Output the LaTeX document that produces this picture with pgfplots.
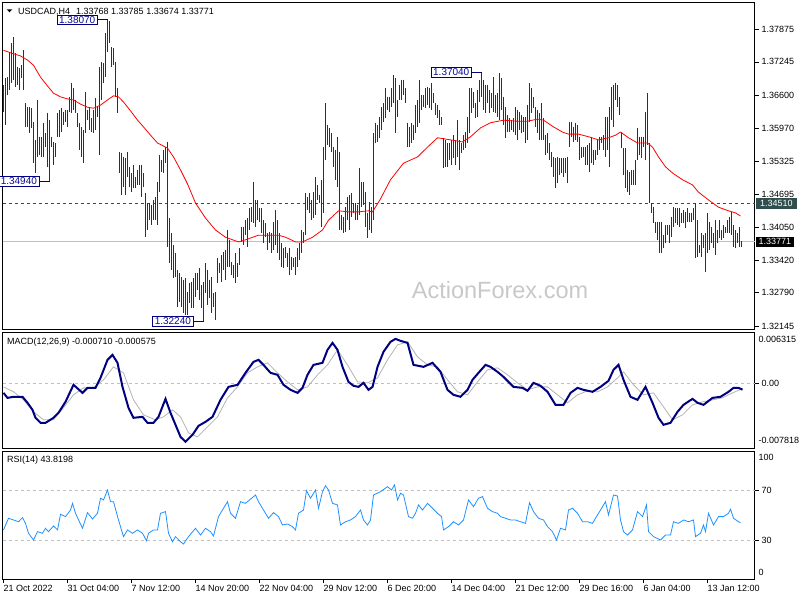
\documentclass[border=0pt]{standalone}
\usepackage{fontspec}
\setmainfont{Liberation Sans}
\usepackage{pgfplots}
\pgfplotsset{compat=1.18}
\usepackage{pgfplotstable}

\definecolor{barc}{RGB}{14,56,88}
\definecolor{navyc}{RGB}{0,0,128}
\definecolor{lblc}{RGB}{10,10,150}
\definecolor{sigc}{RGB}{178,178,178}
\definecolor{rsic}{RGB}{30,144,255}
\definecolor{dslate}{RGB}{47,79,79}
\definecolor{wm}{RGB}{200,200,200}
\definecolor{lvl}{RGB}{192,192,192}

% H4 bars: index, high, low
\pgfplotstableread{
i hi lo
0 1.3680 1.3628
1 1.3693 1.3603
2 1.3695 1.3661
3 1.3744 1.3670
4 1.3761 1.3684
5 1.3772 1.3690
6 1.3742 1.3676
7 1.3715 1.3680
8 1.3713 1.3670
9 1.3718 1.3693
10 1.3747 1.3670
11 1.3645 1.3599
12 1.3637 1.3599
13 1.3637 1.3587
14 1.3635 1.3597
15 1.3608 1.3529
16 1.3574 1.3510
17 1.3651 1.3541
18 1.3580 1.3545
19 1.3580 1.3541
20 1.3607 1.3541
21 1.3587 1.3560
22 1.3626 1.3522
23 1.3612 1.3494
24 1.3580 1.3560
25 1.3570 1.3526
26 1.3568 1.3541
27 1.3626 1.3580
28 1.3632 1.3580
29 1.3635 1.3589
30 1.3628 1.3603
31 1.3632 1.3608
32 1.3632 1.3599
33 1.3657 1.3628
34 1.3684 1.3626
35 1.3674 1.3632
36 1.3651 1.3626
37 1.3626 1.3599
38 1.3607 1.3554
39 1.3599 1.3541
40 1.3593 1.3529
41 1.3666 1.3587
42 1.3632 1.3612
43 1.3635 1.3593
44 1.3616 1.3589
45 1.3632 1.3587
46 1.3655 1.3593
47 1.3637 1.3618
48 1.3715 1.3545
49 1.3724 1.3651
50 1.3722 1.3684
51 1.3780 1.3695
52 1.3807 1.3744
53 1.3803 1.3761
54 1.3753 1.3715
55 1.3751 1.3718
56 1.3724 1.3657
57 1.3674 1.3626
58 1.3551 1.3510
59 1.3549 1.3468
60 1.3541 1.3483
61 1.3539 1.3468
62 1.3551 1.3502
63 1.3522 1.3483
64 1.3510 1.3473
65 1.3526 1.3481
66 1.3502 1.3481
67 1.3516 1.3487
68 1.3526 1.3487
69 1.3526 1.3464
70 1.3510 1.3483
71 1.3471 1.3386
72 1.3452 1.3400
73 1.3452 1.3419
74 1.3448 1.3410
75 1.3458 1.3419
76 1.3464 1.3419
77 1.3493 1.3410
78 1.3545 1.3473
79 1.3535 1.3512
80 1.3554 1.3510
81 1.3560 1.3529
82 1.3570 1.3367
83 1.3423 1.3336
84 1.3394 1.3323
85 1.3371 1.3307
86 1.3356 1.3309
87 1.3323 1.3251
88 1.3317 1.3261
89 1.3309 1.3251
90 1.3304 1.3240
91 1.3307 1.3236
92 1.3280 1.3236
93 1.3298 1.3259
94 1.3300 1.3249
95 1.3307 1.3249
96 1.3317 1.3271
97 1.3317 1.3284
98 1.3327 1.3265
99 1.3294 1.3249
100 1.3300 1.3224
101 1.3336 1.3278
102 1.3323 1.3255
103 1.3304 1.3269
104 1.3309 1.3240
105 1.3278 1.3251
106 1.3280 1.3226
107 1.3346 1.3298
108 1.3336 1.3317
109 1.3352 1.3300
110 1.3358 1.3323
111 1.3361 1.3304
112 1.3400 1.3329
113 1.3381 1.3329
114 1.3338 1.3313
115 1.3332 1.3307
116 1.3356 1.3298
117 1.3336 1.3309
118 1.3365 1.3332
119 1.3406 1.3377
120 1.3406 1.3371
121 1.3419 1.3390
122 1.3423 1.3367
123 1.3442 1.3400
124 1.3444 1.3415
125 1.3493 1.3413
126 1.3458 1.3406
127 1.3458 1.3419
128 1.3442 1.3415
129 1.3442 1.3394
130 1.3419 1.3375
131 1.3413 1.3386
132 1.3394 1.3361
133 1.3396 1.3375
134 1.3394 1.3356
135 1.3415 1.3361
136 1.3439 1.3371
137 1.3419 1.3356
138 1.3394 1.3342
139 1.3375 1.3329
140 1.3365 1.3327
141 1.3367 1.3346
142 1.3356 1.3329
143 1.3365 1.3313
144 1.3348 1.3323
145 1.3346 1.3329
146 1.3348 1.3313
147 1.3365 1.3329
148 1.3375 1.3342
149 1.3400 1.3356
150 1.3396 1.3375
151 1.3471 1.3390
152 1.3464 1.3439
153 1.3471 1.3433
154 1.3458 1.3419
155 1.3473 1.3423
156 1.3502 1.3429
157 1.3487 1.3458
158 1.3468 1.3452
159 1.3497 1.3406
160 1.3560 1.3433
161 1.3645 1.3535
162 1.3603 1.3564
163 1.3597 1.3560
164 1.3587 1.3551
165 1.3560 1.3522
166 1.3554 1.3497
167 1.3580 1.3483
168 1.3551 1.3400
169 1.3429 1.3400
170 1.3425 1.3394
171 1.3444 1.3396
172 1.3464 1.3419
173 1.3468 1.3400
174 1.3471 1.3425
175 1.3452 1.3433
176 1.3452 1.3419
177 1.3448 1.3419
178 1.3520 1.3429
179 1.3493 1.3444
180 1.3493 1.3448
181 1.3473 1.3406
182 1.3433 1.3385
183 1.3454 1.3400
184 1.3444 1.3394
185 1.3587 1.3419
186 1.3607 1.3568
187 1.3603 1.3570
188 1.3618 1.3578
189 1.3637 1.3593
190 1.3645 1.3608
191 1.3674 1.3616
192 1.3657 1.3632
193 1.3657 1.3628
194 1.3674 1.3637
195 1.3699 1.3645
196 1.3693 1.3587
197 1.3651 1.3618
198 1.3680 1.3651
199 1.3690 1.3651
200 1.3690 1.3661
201 1.3674 1.3645
202 1.3607 1.3560
203 1.3599 1.3560
204 1.3607 1.3568
205 1.3603 1.3574
206 1.3641 1.3587
207 1.3651 1.3599
208 1.3690 1.3607
209 1.3661 1.3632
210 1.3661 1.3637
211 1.3674 1.3635
212 1.3676 1.3641
213 1.3674 1.3635
214 1.3684 1.3632
215 1.3664 1.3645
216 1.3645 1.3622
217 1.3641 1.3616
218 1.3632 1.3603
219 1.3618 1.3603
220 1.3578 1.3520
221 1.3574 1.3522
222 1.3568 1.3522
223 1.3568 1.3535
224 1.3574 1.3526
225 1.3583 1.3539
226 1.3574 1.3526
227 1.3612 1.3541
228 1.3574 1.3516
229 1.3568 1.3549
230 1.3583 1.3554
231 1.3589 1.3558
232 1.3618 1.3568
233 1.3674 1.3587
234 1.3674 1.3626
235 1.3666 1.3635
236 1.3645 1.3616
237 1.3670 1.3618
238 1.3690 1.3647
239 1.3704 1.3657
240 1.3690 1.3632
241 1.3680 1.3626
242 1.3680 1.3645
243 1.3670 1.3626
244 1.3664 1.3635
245 1.3695 1.3628
246 1.3661 1.3626
247 1.3664 1.3618
248 1.3703 1.3612
249 1.3693 1.3632
250 1.3657 1.3603
251 1.3637 1.3578
252 1.3622 1.3589
253 1.3616 1.3589
254 1.3612 1.3593
255 1.3616 1.3589
256 1.3637 1.3583
257 1.3632 1.3574
258 1.3628 1.3593
259 1.3622 1.3587
260 1.3618 1.3589
261 1.3618 1.3568
262 1.3641 1.3574
263 1.3684 1.3608
264 1.3674 1.3626
265 1.3657 1.3635
266 1.3637 1.3599
267 1.3632 1.3587
268 1.3626 1.3574
269 1.3645 1.3574
270 1.3616 1.3574
271 1.3583 1.3545
272 1.3587 1.3549
273 1.3568 1.3535
274 1.3551 1.3522
275 1.3541 1.3502
276 1.3539 1.3481
277 1.3541 1.3491
278 1.3539 1.3506
279 1.3539 1.3510
280 1.3539 1.3502
281 1.3539 1.3510
282 1.3541 1.3491
283 1.3608 1.3560
284 1.3608 1.3580
285 1.3599 1.3570
286 1.3607 1.3574
287 1.3603 1.3570
288 1.3580 1.3535
289 1.3560 1.3539
290 1.3560 1.3541
291 1.3560 1.3526
292 1.3564 1.3526
293 1.3568 1.3512
294 1.3580 1.3529
295 1.3554 1.3526
296 1.3554 1.3535
297 1.3574 1.3545
298 1.3580 1.3554
299 1.3580 1.3568
300 1.3583 1.3554
301 1.3618 1.3541
302 1.3618 1.3554
303 1.3637 1.3522
304 1.3676 1.3612
305 1.3680 1.3599
306 1.3684 1.3651
307 1.3680 1.3637
308 1.3657 1.3622
309 1.3589 1.3558
310 1.3558 1.3506
311 1.3558 1.3481
312 1.3516 1.3473
313 1.3512 1.3468
314 1.3516 1.3487
315 1.3516 1.3487
316 1.3535 1.3487
317 1.3597 1.3535
318 1.3580 1.3545
319 1.3580 1.3539
320 1.3580 1.3560
321 1.3628 1.3535
322 1.3664 1.3564
323 1.3568 1.3452
324 1.3452 1.3433
325 1.3444 1.3413
326 1.3415 1.3394
327 1.3415 1.3381
328 1.3415 1.3356
329 1.3415 1.3356
330 1.3390 1.3365
331 1.3410 1.3375
332 1.3410 1.3390
333 1.3410 1.3375
334 1.3425 1.3386
335 1.3444 1.3406
336 1.3442 1.3413
337 1.3442 1.3410
338 1.3442 1.3406
339 1.3433 1.3413
340 1.3439 1.3413
341 1.3435 1.3404
342 1.3442 1.3415
343 1.3433 1.3415
344 1.3433 1.3415
345 1.3442 1.3419
346 1.3452 1.3346
347 1.3419 1.3348
348 1.3371 1.3356
349 1.3394 1.3348
350 1.3390 1.3365
351 1.3394 1.3319
352 1.3433 1.3356
353 1.3415 1.3361
354 1.3406 1.3375
355 1.3394 1.3365
356 1.3419 1.3352
357 1.3400 1.3375
358 1.3419 1.3385
359 1.3400 1.3381
360 1.3410 1.3385
361 1.3406 1.3394
362 1.3419 1.3394
363 1.3425 1.3394
364 1.3435 1.3390
365 1.3410 1.3367
366 1.3400 1.3365
367 1.3394 1.3375
368 1.3406 1.3367
369 1.3379 1.3367
}\bars

\pgfplotstableread{
i ma
0 1.3747
3.5 1.3742
8.5 1.3736
12 1.3728
15 1.3718
18.5 1.3695
22 1.3678
25 1.3664
28.5 1.3657
32 1.3653
35 1.3651
38.5 1.3643
42 1.3637
45 1.3635
48.5 1.3641
52 1.3651
55 1.3659
57.5 1.3657
60 1.3647
63.5 1.3630
67 1.3612
70 1.3599
73.5 1.3583
77 1.3568
80 1.3562
82 1.3558
85 1.3541
88.5 1.3516
92 1.3489
96 1.3452
101 1.3423
106 1.3400
111 1.3386
117.5 1.3377
121 1.3381
127.5 1.3390
132.5 1.3390
137.5 1.3390
141 1.3386
146 1.3377
149.5 1.3377
154.5 1.3386
159.5 1.3400
162.5 1.3419
167.5 1.3437
172.5 1.3435
177.5 1.3435
182.5 1.3437
184.5 1.3435
188.5 1.3460
193.5 1.3497
200 1.3529
207 1.3541
212 1.3560
217 1.3578
223.5 1.3574
229.5 1.3570
233.5 1.3580
238.5 1.3597
243.5 1.3607
250 1.3612
257 1.3610
262 1.3610
267 1.3614
270 1.3612
275 1.3599
279.5 1.3589
282.5 1.3585
287.5 1.3585
292.5 1.3580
297.5 1.3574
302.5 1.3578
306 1.3583
308.5 1.3589
312.5 1.3578
317 1.3568
322 1.3568
324.5 1.3560
327.5 1.3541
331 1.3522
334.5 1.3510
339.5 1.3497
344.5 1.3487
347.5 1.3473
352.5 1.3458
357.5 1.3444
362.5 1.3437
366 1.3433
368.5 1.3427
}\matab

\pgfplotstableread{
i macd
0 -0.00110
2 -0.00171
5 -0.00158
9.5 -0.00158
12 -0.00231
14.5 -0.00317
16 -0.00414
18.5 -0.00475
21 -0.00475
25 -0.00414
27.5 -0.00353
31 -0.00219
35 -0.00012
39.5 -0.00110
42 -0.00049
46 -0.00049
48.5 0.00073
52 0.00292
54.5 0.00353
57 0.00256
59.5 -0.00037
62.5 -0.00292
65 -0.00414
69.5 -0.00402
72 -0.00475
75 -0.00475
77.5 -0.00402
81 -0.00183
83.5 -0.00353
86 -0.00499
88.5 -0.00646
91 -0.00706
94.5 -0.00621
97.5 -0.00512
101 -0.00463
104.5 -0.00402
108.5 -0.00195
112.5 -0.00037
117 -0.00012
121 0.00134
125 0.00268
127.5 0.00292
130 0.00231
133.5 0.00134
137 0.00110
140 -0.00012
143.5 -0.00073
147 -0.00110
149.5 -0.00049
152 0.00110
155 0.00231
159.5 0.00256
162 0.00414
164.5 0.00499
167 0.00414
169.5 0.00207
172.5 0.00024
175 -0.00024
177.5 -0.00037
180 0.00012
182.5 -0.00073
184.5 -0.00037
187 0.00207
190 0.00390
193.5 0.00512
196 0.00548
198.5 0.00524
202 0.00499
205 0.00231
210 0.00207
214.5 0.00256
218.5 0.00146
222 -0.00073
225 -0.00134
228.5 -0.00158
232 -0.00073
234.5 0.00049
237.5 0.00134
241 0.00231
243.5 0.00207
247 0.00146
250 0.00085
255 -0.00037
259.5 -0.00049
262 -0.00085
265 0.00012
268.5 -0.00024
272 -0.00097
276 -0.00256
280 -0.00256
283.5 -0.00110
287 -0.00049
290 -0.00073
294.5 -0.00097
298.5 -0.00037
302.5 0.00037
305 0.00171
307.5 0.00231
310 0.00049
313.5 -0.00158
317 -0.00195
321 -0.00037
324.5 -0.00231
327.5 -0.00414
330 -0.00499
333.5 -0.00475
337 -0.00341
340 -0.00256
344.5 -0.00183
347 -0.00231
350 -0.00256
354.5 -0.00171
358.5 -0.00158
362.5 -0.00097
365 -0.00049
367.5 -0.00049
369.5 -0.00071
}\macdtab

\pgfplotstableread{
i sig
0 -0.00037
5 -0.00097
10 -0.00195
15 -0.00341
20 -0.00438
25 -0.00438
30 -0.00292
35 -0.00134
40 -0.00049
45 -0.00049
50 0.00049
55 0.00207
60 0.00134
65 -0.00195
70 -0.00378
76 -0.00438
80 -0.00402
84.5 -0.00317
88.5 -0.00402
92.5 -0.00597
97 -0.00646
102 -0.00524
107 -0.00402
112 -0.00171
117 -0.00037
122 0.00134
127 0.00207
132 0.00256
137 0.00134
142 0.00024
147 -0.00073
152 -0.00037
157 0.00110
162 0.00231
167 0.00414
172 0.00231
177 0.00024
182 0.00012
187 0.00073
192 0.00292
197 0.00475
202 0.00512
207 0.00329
212 0.00231
217 0.00207
222 0.00049
227 -0.00097
232 -0.00134
237 0.00024
242 0.00171
247 0.00195
252 0.00110
257 0.00012
262 -0.00073
267 -0.00037
272 -0.00037
277 -0.00134
282 -0.00231
287 -0.00134
292 -0.00085
297 -0.00097
302 -0.00037
307 0.00073
310 0.00146
315 -0.00012
320 -0.00134
325 -0.00110
330 -0.00280
334.5 -0.00438
339.5 -0.00378
344.5 -0.00256
349.5 -0.00219
354.5 -0.00195
359.5 -0.00171
364.5 -0.00110
369.5 -0.00058
}\sigtab

\pgfplotstableread{
i rsi
0 38.1
2.5 47.5
5 46.1
7.5 44.7
9.5 48.0
11 43.4
12.5 35.4
15 30.0
17 36.7
19.5 35.4
21 39.4
22.5 36.7
25 41.3
27 38.1
28.5 50.7
31 48.8
33.5 54.1
34.5 59.5
36 51.5
39.5 39.4
42 52.0
44.5 46.9
47 51.5
48.5 63.6
50 62.2
52 70.2
53.5 60.8
55 60.8
57.5 46.1
60 32.7
62 38.1
64.5 35.4
67 38.1
69.5 35.4
71.5 29.4
72.5 35.4
75 38.1
77 38.1
78.5 51.5
81 52.8
82.5 35.4
84.5 28.6
86 32.7
88.5 28.6
90 26.8
92.5 32.7
96 39.4
98.5 34.0
101 39.4
103.5 36.7
105 33.2
107.5 48.8
110 55.5
112 60.8
113.5 51.5
116 47.5
118.5 60.8
121 59.5
126 66.2
127.5 60.8
130 54.1
132.5 47.5
135 52.0
137.5 48.8
139.5 42.1
142 42.9
144.5 40.7
146 38.1
147.5 51.5
150 54.1
151.5 69.7
153.5 63.6
156 70.2
157.5 55.5
159.5 68.9
161 73.7
162.5 70.2
164.5 59.5
167 58.2
168.5 42.1
171 44.7
173.5 46.1
176 48.8
178.5 54.1
180 46.1
182 42.1
183.5 46.1
185 66.2
188.5 68.9
192 72.9
194 70.2
195.5 74.3
197 62.2
198.5 67.6
200 66.2
202.5 48.8
204.5 47.5
206 51.5
207.5 58.2
209.5 54.1
212 59.5
214.5 55.5
217 51.5
219 48.8
220 38.1
222.5 40.7
225 44.7
227.5 42.1
230 46.1
232.5 62.2
235 56.8
237.5 63.6
239.5 64.9
242 55.5
244.5 52.8
247 51.5
248.5 48.8
251 47.5
253.5 46.1
256 46.1
258.5 44.7
261 43.4
263 60.0
265 52.8
267.5 47.5
270 46.1
272 40.7
274.5 36.7
276.5 30.0
278.5 39.4
281 38.1
282.5 54.1
284.5 55.5
287 51.5
289.5 44.7
292 44.7
294.5 43.4
296 47.5
298.5 54.1
301 60.8
302.5 50.1
305 66.2
307 65.4
308.5 46.1
310 36.7
312 34.0
314.5 38.1
317 52.8
319.5 48.8
321.5 58.2
322.5 36.7
325 32.7
328.5 30.0
331 34.0
333.5 34.0
335 44.7
337.5 43.4
340 46.1
342.5 44.7
345 46.1
346 32.7
348.5 35.4
350 42.1
351 36.7
352.5 51.5
355 42.1
357.5 48.8
360 48.8
362.5 51.5
363.5 54.7
365 47.5
367.5 44.7
368.5 43.8
}\rsitab

\pgfplotsset{
  panel/.style={
    scale only axis, width=752pt, xmin=-0.5, xmax=375.5, clip=false,
    axis line style={black, line width=1pt},
    ytick pos=right, xtick pos=bottom, tick align=outside,
    major tick length=4pt, tick style={black, line width=0.7pt},
    xtick=\empty, scaled y ticks=false,
    yticklabel style={anchor=west, inner sep=0pt, xshift=3pt},
    tick label style={font=\fontsize{9}{11}\selectfont},
  },
}
\tikzset{
  boxlbl/.style={draw=navyc, fill=white, text=lblc, line width=0.8pt,
    inner xsep=2pt, inner ysep=1.2pt, font=\fontsize{10}{12}\selectfont},
}

\begin{document}
\fontsize{9pt}{11pt}\selectfont
\begin{tikzpicture}
\useasboundingbox (0,0) rectangle (800pt,-600pt);
\node[text=wm, font=\fontsize{23.5}{28}\selectfont] at (500pt,-290pt) {ActionForex.com};

% price panel
\begin{axis}[panel, at={(2.5pt,-329pt)}, anchor=south west, height=326.5pt,
  ymin=1.32089, ymax=1.38391,
  ytick={1.32145,1.32790,1.33420,1.34050,1.34695,1.35325,1.35970,1.36600,1.37245,1.37875},
  yticklabels={1.32145,1.32790,1.33420,1.34050,1.34695,1.35325,1.35970,1.36600,1.37245,1.37875},
]
\addplot[lvl, line width=0.8pt, forget plot] coordinates {(-0.5,1.33771) (375.5,1.33771)};
\addplot[dslate, line width=0.8pt, dash pattern=on 3pt off 3pt, forget plot] coordinates {(-0.5,1.34510) (375.5,1.34510)};
\addplot[draw=none, mark=none, forget plot,
  error bars/.cd, y dir=minus, y explicit, error mark=none,
  error bar style={draw=barc, line width=1.3pt}]
  table[x=i, y=hi, y error expr=\thisrow{hi}-\thisrow{lo}] {\bars};
\addplot[red, line width=0.8pt, mark=none] table[x=i, y=ma] {\matab};

\draw[navyc, line width=0.8pt] (axis cs:47.1,1.3807) -- (axis cs:52,1.3807);
\node[boxlbl, anchor=east] at (axis cs:47.1,1.3806) {1.38070};
\draw[navyc, line width=0.8pt] (axis cs:17.9,1.3494) -- (axis cs:23,1.3494);
\node[boxlbl, anchor=east] at (axis cs:17.9,1.3494) {1.34940};
\draw[navyc, line width=0.8pt] (axis cs:234.1,1.3704) -- (axis cs:239,1.3704);
\node[boxlbl, anchor=east] at (axis cs:234.1,1.3704) {1.37040};
\draw[navyc, line width=0.8pt] (axis cs:94.9,1.3224) -- (axis cs:100,1.3224);
\node[boxlbl, anchor=east] at (axis cs:94.9,1.3224) {1.32240};

\node[fill=dslate, text=white, anchor=west, inner xsep=4pt, inner ysep=2.2pt,
  font=\fontsize{9}{11}\selectfont] at (axis cs:375.5,1.34510) [xshift=1.5pt] {1.34510};
\node[fill=black, text=white, anchor=west, inner xsep=2.5pt, inner ysep=1.8pt,
  font=\fontsize{9}{11}\selectfont] at (axis cs:375.5,1.33771) [xshift=1.5pt] {1.33771};
\end{axis}

% MACD panel
\begin{axis}[panel, at={(2.5pt,-448pt)}, anchor=south west, height=116pt,
  ymin=-0.007818, ymax=0.006315, ytick={0}, yticklabels={0.00},
  yticklabel style={xshift=0pt},
]
\addplot[lvl, line width=0.8pt, dash pattern=on 3pt off 3pt, forget plot] coordinates {(-0.5,0) (375.5,0)};
\addplot[sigc, line width=0.8pt, mark=none] table[x=i, y=sig] {\sigtab};
\addplot[navyc, line width=2pt, mark=none] table[x=i, y=macd] {\macdtab};
\node[anchor=west, inner sep=0pt] at (rel axis cs:1,1) [xshift=3.8pt, yshift=-7pt] {0.006315};
\node[anchor=west, inner sep=0pt] at (rel axis cs:1,0) [xshift=3.8pt, yshift=8pt] {-0.007818};
\end{axis}

% RSI panel
\begin{axis}[panel, at={(2.5pt,-579pt)}, anchor=south west, height=128pt,
  ymin=-1.4, ymax=101.6, ytick={30,70}, yticklabels={30,70},
  yticklabel style={xshift=0pt},
  xtick={0,32,64,96,128,160,192,224,256,288,320,352},
  xticklabels={21 Oct 2022,31 Oct 04:00,7 Nov 12:00,14 Nov 20:00,22 Nov 04:00,29 Nov 12:00,6 Dec 20:00,14 Dec 04:00,21 Dec 12:00,29 Dec 16:00,6 Jan 04:00,13 Jan 12:00},
  xticklabel style={anchor=north west, inner sep=0pt, yshift=-2pt},
]
\addplot[lvl, line width=0.8pt, dash pattern=on 3pt off 3pt, forget plot] coordinates {(-0.5,70) (375.5,70)};
\addplot[lvl, line width=0.8pt, dash pattern=on 3pt off 3pt, forget plot] coordinates {(-0.5,30) (375.5,30)};
\addplot[rsic, line width=0.8pt, mark=none] table[x=i, y=rsi] {\rsitab};
\node[anchor=west, inner sep=0pt] at (rel axis cs:1,1) [xshift=3.8pt, yshift=-6pt] {100};
\node[anchor=west, inner sep=0pt] at (rel axis cs:1,0) [xshift=3.8pt, yshift=7pt] {0};
\end{axis}

% titles
\fill[black] (6.7pt,-9.3pt) -- (12.3pt,-9.3pt) -- (9.5pt,-12.3pt) -- cycle;
\node[anchor=base west, inner sep=0pt] at (18pt,-14.5pt) {USDCAD,H4\hspace{6pt}1.33768 1.33785 1.33674 1.33771};
\node[anchor=base west, inner sep=0pt] at (7pt,-344pt) {MACD(12,26,9) -0.000710 -0.000575};
\node[anchor=base west, inner sep=0pt] at (7pt,-462pt) {RSI(14) 43.8198};
\end{tikzpicture}
\end{document}
